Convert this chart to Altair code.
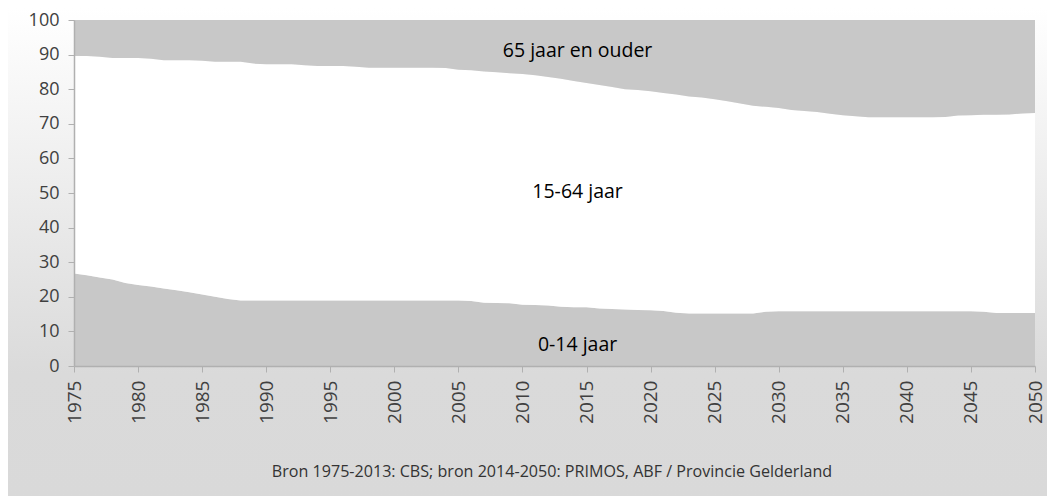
import altair as alt
import pandas as pd

years = list(range(1975, 2051))

# share 0-14 jaar (%)
young = [26.7, 26.2, 25.6, 25.0, 24.0, 23.4, 23.0, 22.4, 21.9, 21.3,
         20.7, 20.0, 19.4, 18.9, 18.9, 18.9, 18.9, 18.9, 18.9, 18.9,
         18.9, 18.9, 18.9, 18.9, 18.9, 18.9, 18.9, 18.9, 18.9, 18.9,
         18.9, 18.8, 18.3, 18.2, 18.1, 17.7, 17.6, 17.5, 17.1, 17.0,
         17.0, 16.6, 16.5, 16.3, 16.2, 16.1, 15.9, 15.4, 15.2, 15.2,
         15.2, 15.2, 15.2, 15.2, 15.7, 15.8, 15.8, 15.8, 15.8, 15.8,
         15.8, 15.8, 15.8, 15.8, 15.8, 15.8, 15.8, 15.8, 15.8, 15.8,
         15.8, 15.7, 15.3, 15.3, 15.3, 15.3]

# share 65 jaar en ouder (%)
old = [10.4, 10.4, 10.6, 11.0, 11.0, 11.0, 11.2, 11.6, 11.6, 11.6,
       11.8, 12.1, 12.1, 12.1, 12.6, 12.8, 12.8, 12.8, 13.1, 13.3,
       13.3, 13.3, 13.5, 13.8, 13.8, 13.8, 13.8, 13.8, 13.8, 13.9,
       14.4, 14.5, 14.9, 15.1, 15.4, 15.6, 16.0, 16.5, 17.0, 17.6,
       18.2, 18.8, 19.4, 20.0, 20.2, 20.6, 21.1, 21.5, 22.1, 22.4,
       22.9, 23.5, 24.1, 24.8, 25.1, 25.4, 26.0, 26.3, 26.6, 27.1,
       27.5, 27.8, 28.1, 28.1, 28.1, 28.1, 28.1, 28.1, 28.0, 27.6,
       27.5, 27.4, 27.4, 27.3, 27.0, 26.9]

groups = ["0-14 jaar", "15-64 jaar", "65 jaar en ouder"]
group_colors = ["#c8c8c8", "#ffffff", "#c8c8c8"]

label_text = ["65 jaar en ouder", "15-64 jaar", "0-14 jaar"]
label_year = [2014.3, 2014.3, 2014.3]
label_value = [91.1, 50.4, 6.0]

tick_years = list(range(1975, 2051, 5))
y_ticks = list(range(0, 101, 10))
source = "Bron 1975-2013: CBS;  bron 2014-2050:  PRIMOS, ABF / Provincie Gelderland"

rows = []
for i, yr in enumerate(years):
    mid = round(100 - young[i] - old[i], 2)
    for k, (g, v) in enumerate(zip(groups, [young[i], mid, old[i]])):
        rows.append({"year": yr, "group": g, "share": v, "order": k})
df = pd.DataFrame(rows)

W, H = 961, 346
FONT = "Open Sans"
PT, PB = 12, 130

xscale = alt.Scale(domain=[1975, 2050], nice=False, zero=False)
yscale = alt.Scale(domain=[0, 100], nice=False)
xaxis = alt.Axis(values=tick_years, format="d", labelAngle=-90, title=None,
                 grid=False, tickSize=6, labelPadding=8, zindex=1, labelOverlap=False,
                 labelFontSize=19)
yaxis = alt.Axis(values=y_ticks, title=None, grid=False, tickCount=11,
                 tickSize=6, labelPadding=9, zindex=1, labelOverlap=False)

bg = alt.Chart(pd.DataFrame({"a": [0]})).mark_rect(
    color=alt.Gradient(
        gradient="linear",
        stops=[alt.GradientStop(color="#ffffff", offset=0),
               alt.GradientStop(color="#dadada", offset=0.75),
               alt.GradientStop(color="#d9d9d9", offset=1)],
        x1=0, x2=0, y1=0, y2=1,
    )
).encode(
    x=alt.value(-66), x2=alt.value(W + 12),
    y=alt.value(-PT), y2=alt.value(H + PB),
)

areas = alt.Chart(df).mark_area(interpolate="linear").encode(
    x=alt.X("year:Q", scale=xscale, axis=xaxis),
    y=alt.Y("share:Q", stack="zero", scale=yscale, axis=yaxis),
    color=alt.Color("group:N", scale=alt.Scale(domain=groups, range=group_colors), legend=None),
    order=alt.Order("order:Q"),
)

labels_df = pd.DataFrame({"text": label_text, "year": label_year, "value": label_value})
labels = alt.Chart(labels_df).mark_text(font=FONT, fontSize=19.5, color="#000000").encode(
    x=alt.X("year:Q", scale=xscale, axis=xaxis),
    y=alt.Y("value:Q", scale=yscale, axis=yaxis),
    text="text:N",
)

src = alt.Chart(pd.DataFrame({"t": [source]})).mark_text(
    font=FONT, fontSize=16.1, color="#333333", align="center", baseline="middle"
).encode(x=alt.value(478), y=alt.value(452), text="t:N")

chart = alt.layer(bg, areas, labels, src).properties(
    width=W, height=H,
    padding={"left": 66, "top": PT, "right": 12, "bottom": PB},
    autosize=alt.AutoSizeParams(type="none"),
).configure_view(stroke=None).configure_axis(
    labelFont=FONT, labelFontSize=18, labelColor="#404040",
    domainColor="#b0b0b0", tickColor="#b0b0b0", domainWidth=1.5,
)

chart.save("out.html", embed_options={"renderer": "svg", "actions": False})
